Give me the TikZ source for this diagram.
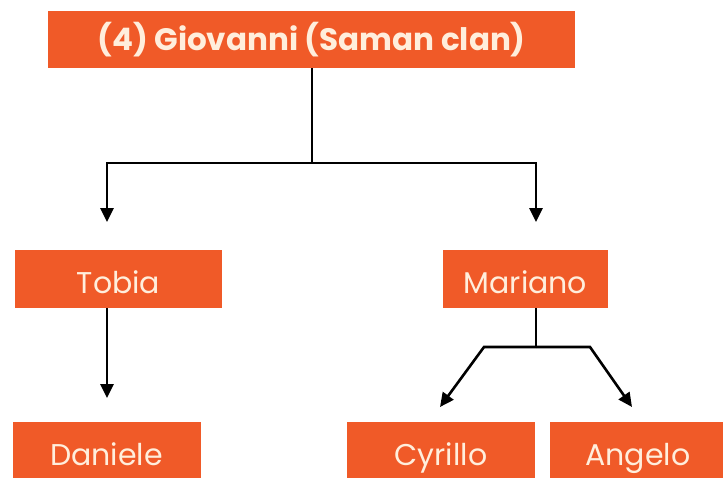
\documentclass[tikz,border=0pt]{standalone}
\usepackage{fontspec}
\setmainfont{Poppins}
\usetikzlibrary{arrows.meta}
\definecolor{clanorange}{RGB}{240,90,40}
\definecolor{clancream}{RGB}{255,238,220}
\begin{document}
\begin{tikzpicture}[x=1pt,y=-1pt]

% Define family tree styles
\tikzstyle{person} = [rectangle, fill=clanorange, text=clancream, inner sep=0pt, minimum height=58pt, text height=28pt, text depth=0pt, font=\fontsize{30}{32}\selectfont]
\tikzstyle{arrow} = [-{Triangle[length=14pt,width=13pt]}, line width=2.6pt, draw=black]
\tikzstyle{link} = [line width=2.6pt, draw=black]

\useasboundingbox (0,0) rectangle (723,477);

% Define nodes (people)
\node[person, minimum width=527pt, minimum height=57pt, text height=21pt, font=\bfseries\fontsize{31}{33}\selectfont] (giovanni) at (311.5,39.5) {(4) Giovanni (Saman clan)};
\node[person, minimum width=207pt] (tobia) at (118.5,279) {Tobia};
\node[person, minimum width=165pt] (mariano) at (525.5,279) {Mariano};
\node[person, minimum width=188pt] (daniele) at (106.5,451) {Daniele};
\node[person, minimum width=188pt] (cyrillo) at (441,451) {Cyrillo};
\node[person, minimum width=176pt] (angelo) at (638,451) {Angelo};

% Define branch points
\coordinate (giovanniSplit) at (312,163);
\coordinate (tobiaLeft) at (107,163);
\coordinate (marianoRight) at (536,163);
\coordinate (tobiaIn) at (107,222);
\coordinate (marianoIn) at (536,222);
\coordinate (danieleIn) at (107,398);
\coordinate (marianoSplit) at (536,347);
\coordinate (cyrilloLeft) at (484,347);
\coordinate (angeloRight) at (590,347);
\coordinate (cyrilloIn) at (440,407);
\coordinate (angeloIn) at (632,407);

% Relationships (arrows)
\draw[link] (giovanni.south -| giovanniSplit) -- (giovanniSplit);
\draw[arrow] (giovanniSplit) -- (tobiaLeft) -- (tobiaIn);
\draw[arrow] (giovanniSplit) -- (marianoRight) -- (marianoIn);

\draw[arrow] (tobia.south -| danieleIn) -- (danieleIn);

\draw[link] (mariano.south -| marianoSplit) -- (marianoSplit);
\draw[arrow] (marianoSplit) -- (cyrilloLeft) -- (cyrilloIn);
\draw[arrow] (marianoSplit) -- (angeloRight) -- (angeloIn);

\end{tikzpicture}
\end{document}
